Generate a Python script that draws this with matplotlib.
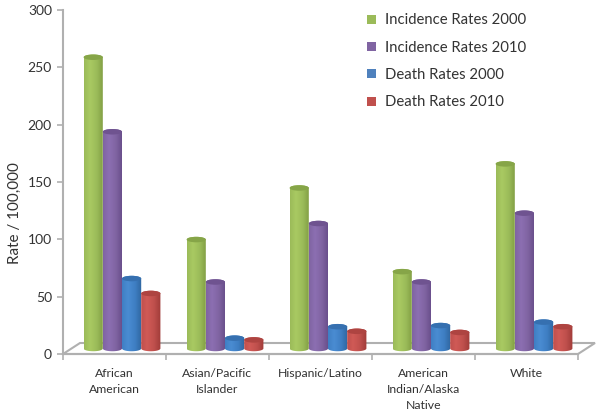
import numpy as np
import matplotlib
matplotlib.use("Agg")
import matplotlib.pyplot as plt
from matplotlib.patches import Ellipse, Patch, PathPatch, Polygon
from matplotlib.path import Path
from matplotlib.colors import LinearSegmentedColormap

plt.rcParams['font.family'] = ['Lato', 'DejaVu Sans']

categories = ['African\nAmerican', 'Asian/Pacific\nIslander', 'Hispanic/Latino',
              'American\nIndian/Alaska\nNative', 'White']
series_names = ['Incidence Rates 2000', 'Incidence Rates 2010', 'Death Rates 2000', 'Death Rates 2010']
incidence_2000 = [254, 95, 140, 67, 161]
incidence_2010 = [189, 58, 109, 58, 118]
death_2000 = [61, 9, 19, 20, 23]
death_2010 = [48, 7.5, 15, 14, 19]
series = [incidence_2000, incidence_2010, death_2000, death_2010]
y_ticks = [0, 50, 100, 150, 200, 250, 300]

base_cols = ['#9BBB59', '#8064A2', '#3F7FC4', '#C0504D']
dark_cols = ['#7F9C42', '#664C88', '#2F669F', '#A03C39']
light_cols = ['#A9CA62', '#8C6FB2', '#4A8CD2', '#D05A56']
top_cols = ['#86A548', '#6F5390', '#3670B0', '#AE4441']
legend_cols = ['#9BBB59', '#8064A2', '#4F81BD', '#C0504D']
text_col = '#333333'

W, H = 604, 416
fig = plt.figure(figsize=(W / 100, H / 100), dpi=100)
L, R, B, T = 63, 578, 354, 10
ax = fig.add_axes([L / W, 1 - B / H, (R - L) / W, (B - T) / H])
ax.set_xlim(0, 5)
ax.set_ylim(0, 300)

px_x = 5 / (R - L)
px_y = 300 / (B - T)
grey = '#B0B0B0'

# floor (3-D depth of the plot)
dx, dy = 17 * px_x, 11 * px_y
floor = Polygon([(0, 0), (5, 0), (5 + dx, dy), (dx, dy)], closed=True, fc='white', ec=grey,
                lw=1.5, clip_on=False, zorder=1)
ax.add_patch(floor)

bar_w = 19.2 * px_x
ell_h = 5.5 * px_y
base = 5.5 * px_y
shift = 7.5 * px_x


def cylinder_path(x0, x1, y0, y1):
    cx = (x0 + x1) / 2
    rx = (x1 - x0) / 2
    ry = ell_h / 2
    t = np.linspace(np.pi, 2 * np.pi, 30)
    lower = np.c_[cx + rx * np.cos(t), y0 + ry * np.sin(t)]
    t2 = np.linspace(0, np.pi, 30)
    upper = np.c_[cx + rx * np.cos(t2), y1 + ry * np.sin(t2)]
    v = np.vstack([lower, upper, lower[:1]])
    return Path(v, closed=True)


for j, (vals, name) in enumerate(zip(series, series_names)):
    cmap = LinearSegmentedColormap.from_list('c', [
        (0, base_cols[j]), (0.3, light_cols[j]),
        (0.65, base_cols[j]), (1, dark_cols[j])])
    grad = np.linspace(0, 1, 64)[None, :]
    for i, v in enumerate(vals):
        cx = i + 0.5 + shift + (j - 1.5) * bar_w
        x0, x1 = cx - bar_w / 2, cx + bar_w / 2
        y0, y1 = base, base + v
        im = ax.imshow(grad, cmap=cmap, extent=[x0, x1, y0 - ell_h, y1 + ell_h],
                       aspect='auto', zorder=3 + j * 0.01, interpolation='bilinear')
        clip = PathPatch(cylinder_path(x0, x1, y0, y1), transform=ax.transData, fc='none', ec='none')
        ax.add_patch(clip)
        im.set_clip_path(clip)
        ax.add_patch(Ellipse((cx, y1), bar_w, ell_h, fc=top_cols[j], ec='none',
                             zorder=3.5 + j * 0.01))

ax.set_xlim(0, 5)
ax.set_ylim(0, 300)

for s in ['top', 'right']:
    ax.spines[s].set_visible(False)
for s in ['left', 'bottom']:
    ax.spines[s].set_color(grey)
    ax.spines[s].set_linewidth(1.5)
    ax.spines[s].set_zorder(2)

ax.set_yticks(y_ticks)
ax.tick_params(axis='y', length=4, width=1.2, color=grey, labelsize=10, labelcolor=text_col, pad=4)
ax.set_xticks(range(6))
ax.set_xticklabels([])
ax.tick_params(axis='x', which='major', length=4, width=1.2, color=grey)
ax.set_xticks(np.arange(5) + 0.5, minor=True)
ax.set_xticklabels(categories, minor=True, fontsize=8.8, color=text_col, linespacing=1.55)
ax.tick_params(axis='x', which='minor', length=0, pad=10)
ax.set_ylabel('Rate / 100,000', fontsize=11, color=text_col)
ax.yaxis.set_label_coords((22 - L) / (R - L), (B - 213) / (B - T))

handles = [Patch(fc=c, ec='none') for c in legend_cols]
ax.legend(handles, series_names, loc='upper left', bbox_to_anchor=(354 / W, 1 - 0 / H),
          bbox_transform=fig.transFigure, frameon=False, fontsize=10.7, labelcolor=text_col,
          handlelength=0.55, handleheight=0.55, handletextpad=0.65, labelspacing=0.9,
          borderpad=0.4)

fig.savefig('out.png', dpi=100)
